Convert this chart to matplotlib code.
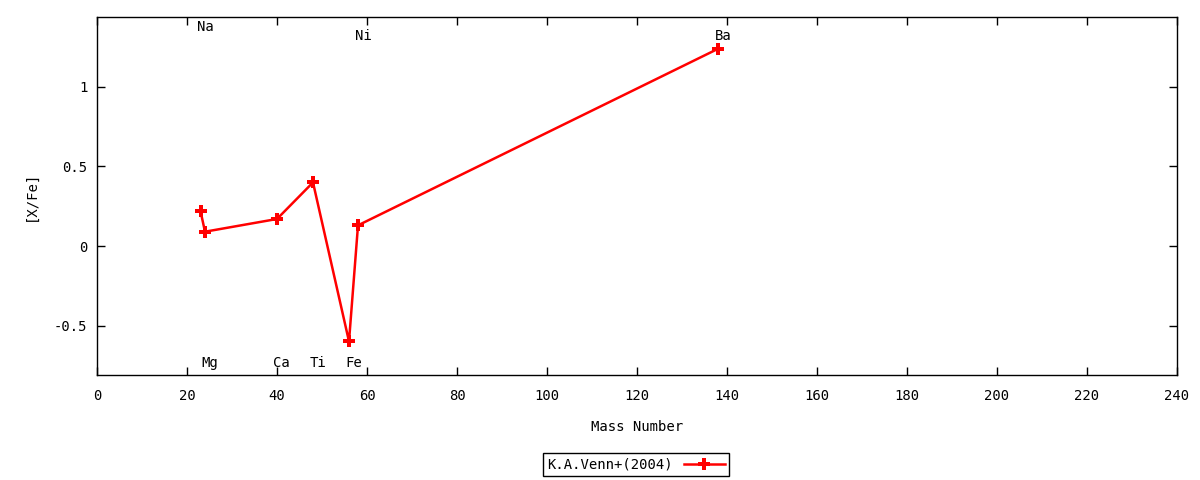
import matplotlib
matplotlib.use("Agg")
import matplotlib.pyplot as plt
from matplotlib.transforms import offset_copy

# abundance data
elements = ['Na', 'Mg', 'Ca', 'Ti', 'Fe', 'Ni', 'Ba']
mass_number = [23, 24, 40, 48, 56, 58, 138]
x_fe = [0.22, 0.09, 0.17, 0.40, -0.60, 0.13, 1.24]
# heights of the element name labels
label_y = [1.38, -0.735, -0.735, -0.735, -0.735, 1.32, 1.32]
series_name = 'K.A.Venn+(2004)'

plt.rcParams['font.family'] = ['DejaVu Sans Mono']
plt.rcParams['font.size'] = 10

fig = plt.figure(figsize=(12, 4.8), dpi=100)
ax = fig.add_axes([97 / 1200, 1 - 375 / 480, 1080 / 1200, 358 / 480])

ax.plot(mass_number, x_fe, color='#ff0000', lw=1.8, marker='P',
        markersize=8, markeredgewidth=0, label=series_name)

shifted = offset_copy(ax.transData, fig=fig, x=-3.5, y=0, units='dots')
for name, mx, ly in zip(elements, mass_number, label_y):
    ax.text(mx, ly, name, transform=shifted, ha='left', va='center')

ax.set_xlim(0, 240)
ax.set_ylim(-0.811, 1.44)
ax.set_xticks(range(0, 241, 20))
ax.set_yticks([-0.5, 0, 0.5, 1])
ax.set_yticklabels(['-0.5', '0', '0.5', '1'])
ax.tick_params(direction='in', top=True, right=True, length=6, width=1)
ax.tick_params(axis='x', pad=10)
ax.tick_params(axis='y', pad=7)
for sp in ax.spines.values():
    sp.set_linewidth(1)

ax.set_xlabel('Mass Number', labelpad=12)
ax.set_ylabel('[X/Fe]', labelpad=11.5)

leg = fig.legend(loc='center', bbox_to_anchor=(636 / 1200, 1 - 464.5 / 480),
                 markerfirst=False, handlelength=3, fancybox=False,
                 framealpha=1, edgecolor='black', borderpad=0.3,
                 handletextpad=0.8, borderaxespad=0)
leg.get_frame().set_linewidth(1)

fig.savefig('out.png', dpi=100)
